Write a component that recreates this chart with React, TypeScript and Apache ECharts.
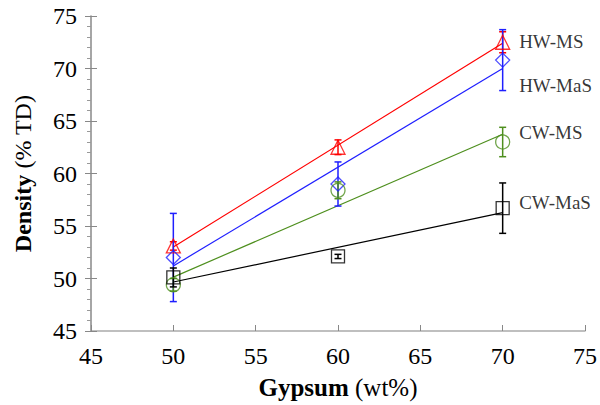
import React, { useEffect, useRef } from "react";
import * as echarts from "echarts";

const gypsum = [50, 60, 70];
const hwMs = [53.1, 62.5, 72.5];
const hwMsErr = [0.4, 0.7, 1.0];
const hwMas = [52.0, 59.0, 70.8];
const hwMasErr = [4.2, 2.1, 2.9];
const cwMs = [49.4, 58.4, 63.0];
const cwMsErr = [0.6, 0.8, 1.4];
const cwMas = [50.1, 52.1, 56.7];
const cwMasErr = [0.9, 0.2, 2.4];

const seriesNames = ["HW-MS", "HW-MaS", "CW-MS", "CW-MaS"];
const seriesColors = ["#ff0000", "#1f1fff", "#4e8f1e", "#000000"];
const seriesSymbols = ["triangle", "diamond", "circle", "rect"];
const seriesSizes = [14, 14, 14, 13];
const labelX = 71.0;
const labelY = [72.6, 68.35, 63.9, 57.2];

const FONT = "'Liberation Serif', 'Times New Roman', serif";

function fit(xs: number[], ys: number[]) {
  const n = xs.length;
  const mx = xs.reduce((a, b) => a + b, 0) / n;
  const my = ys.reduce((a, b) => a + b, 0) / n;
  let sxy = 0, sxx = 0;
  for (let i = 0; i < n; i++) {
    sxy += (xs[i] - mx) * (ys[i] - my);
    sxx += (xs[i] - mx) * (xs[i] - mx);
  }
  const b = sxy / sxx;
  const a = my - b * mx;
  const x0 = xs[0], x1 = xs[n - 1];
  return [[x0, a + b * x0], [x1, a + b * x1]];
}

export default function App() {
  const ref = useRef<HTMLDivElement>(null);
  useEffect(() => {
    if (!ref.current) return;
    document.body.style.margin = "0";
    const chart = echarts.init(ref.current, null, { renderer: "svg" });
    const values = [hwMs, hwMas, cwMs, cwMas];
    const errs = [hwMsErr, hwMasErr, cwMsErr, cwMasErr];
    const series: any[] = [];
    values.forEach((vals, si) => {
      series.push({
        type: "line",
        name: seriesNames[si] + " fit",
        data: fit(gypsum, vals),
        symbol: "none",
        lineStyle: { color: seriesColors[si], width: 1.2 },
        z: 2,
      });
    });
    values.forEach((vals, si) => {
      series.push({
        type: "custom",
        name: seriesNames[si] + " err",
        data: gypsum.map((g, i) => [g, vals[i] - errs[si][i], vals[i] + errs[si][i]]),
        renderItem: (params: any, api: any) => {
          const x = api.value(0);
          const lo = api.coord([x, api.value(1)]);
          const hi = api.coord([x, api.value(2)]);
          const w = 3.5;
          const st = { stroke: seriesColors[si], lineWidth: 1.5 };
          return {
            type: "group",
            children: [
              { type: "line", shape: { x1: lo[0], y1: lo[1], x2: hi[0], y2: hi[1] }, style: st },
              { type: "line", shape: { x1: lo[0] - w, y1: lo[1], x2: lo[0] + w, y2: lo[1] }, style: st },
              { type: "line", shape: { x1: hi[0] - w, y1: hi[1], x2: hi[0] + w, y2: hi[1] }, style: st },
            ],
          };
        },
        z: 3,
      });
    });
    values.forEach((vals, si) => {
      series.push({
        type: "scatter",
        name: seriesNames[si],
        data: gypsum.map((g, i) => [g, vals[i]]),
        symbol: seriesSymbols[si],
        symbolSize: seriesSizes[si],
        itemStyle: { color: "rgba(0,0,0,0)", borderColor: seriesColors[si], borderWidth: 1.3 },
        z: 4,
      });
    });
    series.push({
      type: "scatter",
      name: "labels",
      data: labelY.map((y, i) => ({ value: [labelX, y], name: seriesNames[i] })),
      symbolSize: 0,
      label: {
        show: true,
        position: "right",
        distance: 0,
        formatter: (p: any) => p.name,
        fontFamily: FONT,
        fontSize: 19,
        color: "#000",
      },
      z: 5,
    });

    chart.setOption({
      animation: false,
      grid: { left: 91, right: 14, top: 16, bottom: 71 },
      xAxis: {
        type: "value",
        min: 45,
        max: 75,
        interval: 5,
        splitLine: { show: false },
        axisLine: { lineStyle: { color: "#aaaaaa", width: 1.5 } },
        axisTick: { inside: true, length: 6, lineStyle: { color: "#888" } },
        axisLabel: { fontFamily: FONT, fontSize: 24, color: "#000", margin: 13 },
        name: "{b|Gypsum} (wt%)",
        nameLocation: "middle",
        nameGap: 44,
        nameTextStyle: {
          fontFamily: FONT,
          fontSize: 25,
          color: "#000",
          rich: { b: { fontFamily: FONT, fontSize: 25, fontWeight: "bold", color: "#000" } },
        },
      },
      yAxis: [
        {
          type: "value",
          min: 45,
          max: 75,
          interval: 5,
          splitLine: { show: false },
          axisLine: { lineStyle: { color: "#888888", width: 1.5 } },
          axisTick: { inside: false, length: 6, lineStyle: { color: "#888" } },
          minorTick: { show: true, splitNumber: 5, length: 4, lineStyle: { color: "#999" } },
          minorSplitLine: { show: false },
          axisLabel: { fontFamily: FONT, fontSize: 24, color: "#000", margin: 14 },
          name: "{b|Density} (% TD)",
          nameLocation: "middle",
          nameGap: 56,
          nameTextStyle: {
            fontFamily: FONT,
            fontSize: 24,
            color: "#000",
            rich: { b: { fontFamily: FONT, fontSize: 24, fontWeight: "bold", color: "#000" } },
          },
        },
        {
          type: "value",
          min: 45,
          max: 75,
          interval: 5,
          position: "left",
          splitLine: { show: false },
          axisLine: { show: false },
          axisTick: { inside: true, length: 6, lineStyle: { color: "#888" } },
          axisLabel: { show: false },
        },
      ],
      series,
    });
    return () => chart.dispose();
  }, []);
  return <div ref={ref} style={{ width: 600, height: 405 }} />;
}
